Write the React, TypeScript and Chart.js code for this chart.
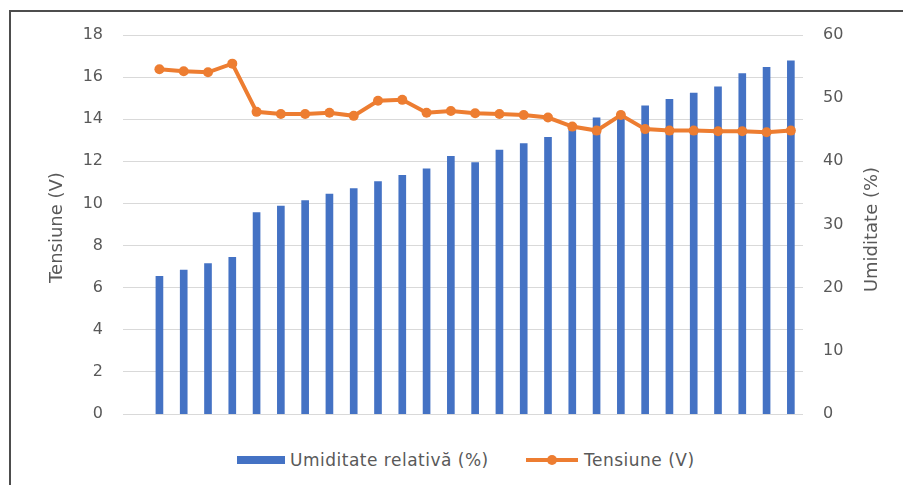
import React, { useEffect, useRef } from "react";
import { Chart, registerables } from "chart.js";

Chart.register(...registerables);

const categories = ["", "1", "2", "3", "4", "5", "6", "7", "8", "9", "10", "11", "12", "13", "14", "15", "16", "17", "18", "19", "20", "21", "22", "23", "24", "25", "26", "27"];

const humidity = [null, 21.8, 22.8, 23.8, 24.8, 31.9, 32.9, 33.8, 34.8, 35.7, 36.8, 37.8, 38.8, 40.8, 39.8, 41.8, 42.8, 43.8, 45.5, 46.9, 47.8, 48.8, 49.8, 50.8, 51.8, 53.9, 54.9, 55.9];

const voltage = [null, 16.37, 16.28, 16.23, 16.64, 14.35, 14.25, 14.25, 14.31, 14.16, 14.88, 14.92, 14.31, 14.39, 14.28, 14.25, 14.2, 14.08, 13.65, 13.46, 14.2, 13.53, 13.46, 13.46, 13.43, 13.43, 13.38, 13.46];

const leftTitle = "Tensiune (V)";
const rightTitle = "Umiditate (%)";
const barLabel = "Umiditate relativă (%)";
const lineLabel = "Tensiune (V)";

const TEXT = "#595959";
const BLUE = "#4472c4";
const ORANGE = "#ed7d31";
const FONT = "'DejaVu Sans', sans-serif";

const titlesPlugin = {
  id: "axisTitles",
  afterDraw(chart: any) {
    const { ctx, chartArea } = chart;
    const cy = (chartArea.top + chartArea.bottom) / 2 + 3;
    ctx.save();
    ctx.fillStyle = TEXT;
    ctx.font = `18px ${FONT}`;
    ctx.textAlign = "center";
    ctx.textBaseline = "middle";
    ctx.translate(chartArea.left - 66, cy);
    ctx.rotate(-Math.PI / 2);
    ctx.fillText(leftTitle, 0, 0);
    ctx.restore();
    ctx.save();
    ctx.fillStyle = TEXT;
    ctx.font = `18px ${FONT}`;
    ctx.textAlign = "center";
    ctx.textBaseline = "middle";
    ctx.translate(chartArea.right + 69, cy + 2);
    ctx.rotate(-Math.PI / 2);
    ctx.fillText(rightTitle, 0, 0);
    ctx.restore();
  },
};

export default function App() {
  const ref = useRef<HTMLCanvasElement>(null);

  useEffect(() => {
    if (!ref.current) return;
    const chart = new Chart(ref.current, {
      type: "bar",
      data: {
        labels: categories,
        datasets: [
          {
            type: "bar",
            label: barLabel,
            data: humidity,
            yAxisID: "y1",
            backgroundColor: BLUE,
            barThickness: 7,
            order: 2,
          },
          {
            type: "line",
            label: lineLabel,
            data: voltage,
            yAxisID: "y",
            borderColor: ORANGE,
            backgroundColor: ORANGE,
            borderWidth: 4,
            pointRadius: 5,
            pointBorderWidth: 0,
            pointBackgroundColor: ORANGE,
            tension: 0,
            order: 1,
          },
        ],
      } as any,
      options: {
        responsive: false,
        animation: false,
        devicePixelRatio: 1,
        layout: { padding: { top: 23, bottom: 12, left: 0, right: 0 } },
        plugins: {
          legend: { display: false },
          tooltip: { enabled: false },
        },
        scales: {
          x: {
            display: false,
          },
          y: {
            position: "left",
            min: 0,
            max: 18,
            ticks: {
              stepSize: 2,
              color: TEXT,
              font: { family: FONT, size: 16 },
              padding: 20,
            },
            grid: { color: "#d9d9d9", lineWidth: 1, drawTicks: false },
            border: { display: false },
            afterFit(scale: any) {
              scale.width = 112;
              scale.paddingTop = 0;
              scale.paddingBottom = 0;
            },
          },
          y1: {
            position: "right",
            min: 0,
            max: 60,
            ticks: {
              stepSize: 10,
              color: TEXT,
              font: { family: FONT, size: 16 },
              padding: 20,
            },
            grid: { display: false, drawTicks: false },
            border: { display: false },
            afterFit(scale: any) {
              scale.width = 92;
              scale.paddingTop = 0;
              scale.paddingBottom = 0;
            },
          },
        },
      } as any,
      plugins: [titlesPlugin],
    });
    return () => chart.destroy();
  }, []);

  const legendText: React.CSSProperties = {
    position: "absolute",
    top: 449,
    height: 22,
    lineHeight: "22px",
    fontFamily: FONT,
    fontSize: 17,
    letterSpacing: "0.5px",
    color: TEXT,
    whiteSpace: "nowrap",
  };

  return (
    <div style={{ position: "fixed", left: 0, top: 0, width: 903, height: 485, overflow: "hidden", background: "#fff" }}>
      <div
        style={{
          position: "absolute",
          left: 9,
          top: 10,
          width: 940,
          height: 520,
          borderLeft: "2px solid #4d4d4d",
          borderTop: "2px solid #4d4d4d",
          boxSizing: "border-box",
        }}
      />
      <canvas ref={ref} width={884} height={414} style={{ position: "absolute", left: 11, top: 12, display: "block" }} />
      <div style={{ position: "absolute", left: 237, top: 456, width: 48, height: 8, background: BLUE }} />
      <div style={{ ...legendText, left: 290 }}>{barLabel}</div>
      <div style={{ position: "absolute", left: 526, top: 458, width: 52, height: 4, background: ORANGE }} />
      <div style={{ position: "absolute", left: 547, top: 455, width: 10, height: 10, borderRadius: "50%", background: ORANGE }} />
      <div style={{ ...legendText, left: 584 }}>{lineLabel}</div>
    </div>
  );
}
